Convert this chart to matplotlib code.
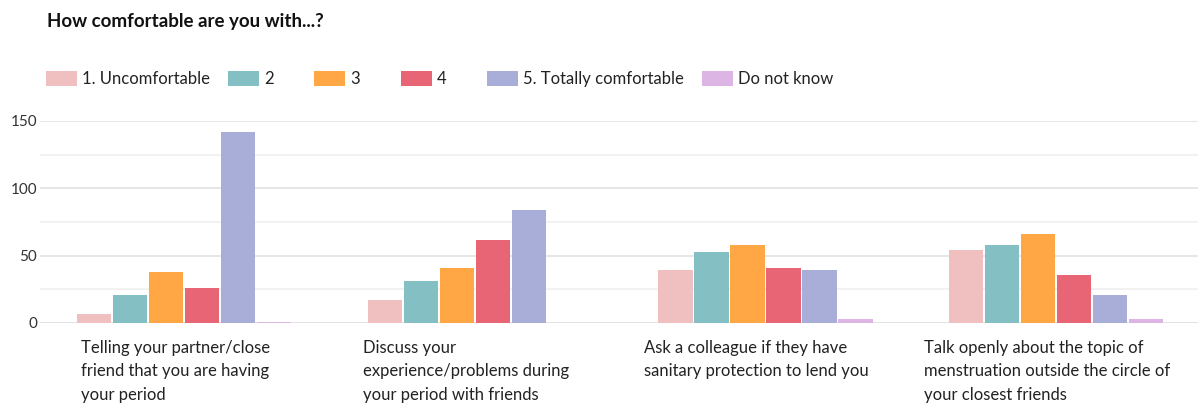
import numpy as np
import matplotlib.pyplot as plt
from matplotlib.patches import Rectangle
from matplotlib.transforms import ScaledTranslation

plt.rcParams['font.family'] = ['Lato', 'DejaVu Sans']

# input data
categories = [
    "Telling your partner/close\nfriend that you are having\nyour period",
    "Discuss your\nexperience/problems during\nyour period with friends",
    "Ask a colleague if they have\nsanitary protection to lend you",
    "Talk openly about the topic of\nmenstruation outside the circle of\nyour closest friends",
]
series_names = ["1. Uncomfortable", "2", "3", "4", "5. Totally comfortable", "Do not know"]
uncomfortable = [7, 17, 39, 54]
level_2 = [21, 31, 53, 58]
level_3 = [38, 41, 58, 66]
level_4 = [26, 62, 41, 36]
totally_comfortable = [142, 84, 39, 21]
do_not_know = [1, 0, 3, 3]

series = [uncomfortable, level_2, level_3, level_4, totally_comfortable, do_not_know]
colors = ["#F0BFBF", "#84C0C3", "#FFA745", "#E86576", "#A9AED9", "#DDB5E5"]

W, H = 1198, 403
fig = plt.figure(figsize=(W / 100, H / 100), dpi=100)
ax = fig.add_axes([40 / W, 1 - 323 / H, 1 - 40 / W, (323 - 121) / H])

x = np.arange(len(categories))
bw = 0.1239
for i, (vals, c) in enumerate(zip(series, colors)):
    ax.bar(x + (i - 2.5) * bw, vals, width=bw * 0.95, color=c, linewidth=0, zorder=3)

ax.set_xlim(-0.497, 3.489)
ax.set_ylim(0, 150)

# grid lines
ax.set_yticks([0, 50, 100, 150])
ax.set_yticks([25, 75, 125], minor=True)
ax.grid(axis='y', which='major', color='#e6e6e6', linewidth=1.4, zorder=0)
ax.grid(axis='y', which='minor', color='#f2f2f2', linewidth=1.4, zorder=0)
ax.axhline(0, color='#e3e3e3', linewidth=2, zorder=2)
ax.tick_params(axis='y', which='both', length=0, labelsize=11, labelcolor='#333333', pad=2)

ax.set_xticks(x)
ax.set_xticklabels(categories, fontsize=12, color='#222222', linespacing=1.6,
                   ha='center', multialignment='left')
ax.tick_params(axis='x', length=0, pad=12)
offset = ScaledTranslation(-9 / 100, 0, fig.dpi_scale_trans)
for lbl in ax.get_xticklabels():
    lbl.set_transform(lbl.get_transform() + offset)

for s in ax.spines.values():
    s.set_visible(False)

# title
fig.text(47 / W, 1 - 21 / H, "How comfortable are you with...?", fontsize=13.5,
         fontweight='bold', color='#111111', va='center', ha='left')

# legend
legend_x = [46, 228, 314, 401, 487, 702]
for px, name, c in zip(legend_x, series_names, colors):
    fig.add_artist(Rectangle((px / W, (H - 85.5) / H), 31 / W, 14.5 / H,
                             transform=fig.transFigure, facecolor=c, edgecolor='none'))
    fig.text((px + 36) / W, 1 - 79 / H, name, fontsize=12, color='#222222',
             va='center', ha='left')

fig.savefig('out.png', dpi=100)
